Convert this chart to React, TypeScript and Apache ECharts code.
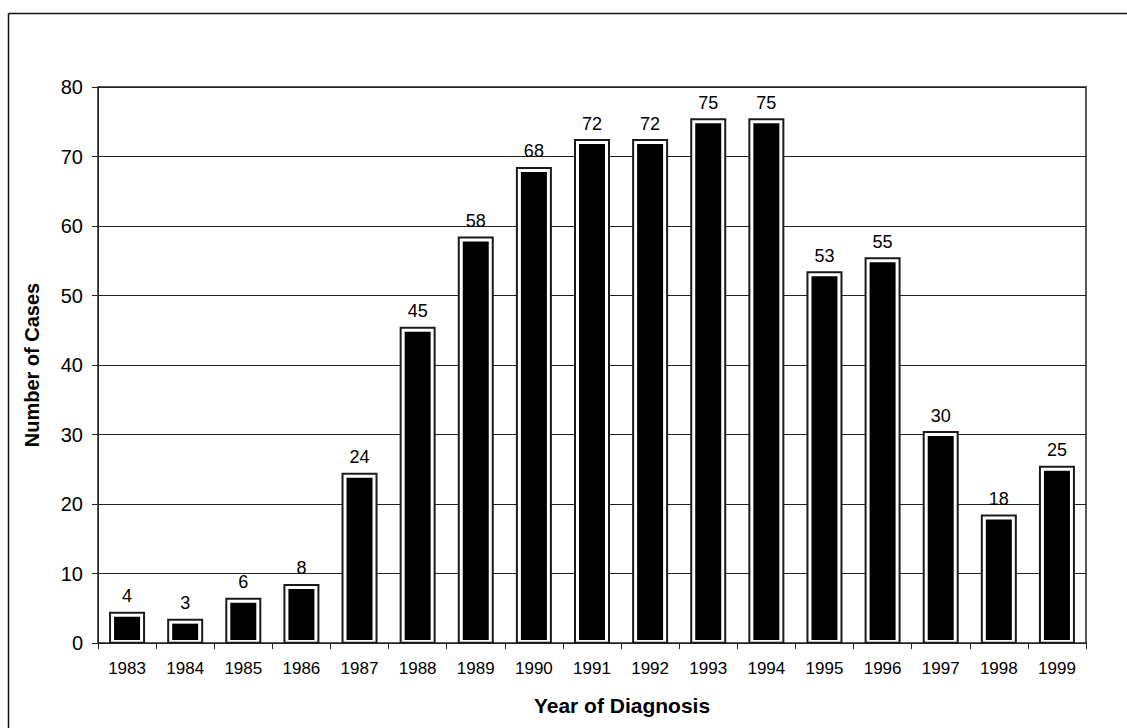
import React, { useEffect, useRef } from "react";
import * as echarts from "echarts";

const years = ["1983","1984","1985","1986","1987","1988","1989","1990","1991","1992","1993","1994","1995","1996","1997","1998","1999"];
const cases = [4, 3, 6, 8, 24, 45, 58, 68, 72, 72, 75, 75, 53, 55, 30, 18, 25];
const yTicks = { min: 0, max: 80, interval: 10 };

const FONT = '"Liberation Sans", Arial, sans-serif';
const BAR_W = 36;

// Each bar: dark outline, white ring, black body — drawn from the axis coordinates.
function renderBar(params: any, api: any) {
  const base = api.coord([api.value(0), 0]);
  const top = api.coord([api.value(0), api.value(1)]);
  const cx = base[0];
  const yTop = top[1];
  const yBot = base[1];
  const rect = (inset: number, topInset: number, fill: string) => ({
    type: "rect",
    shape: {
      x: cx - BAR_W / 2 + inset,
      y: yTop + topInset,
      width: BAR_W - inset * 2,
      height: Math.max(0, yBot - yTop - topInset - inset * 0.6),
    },
    style: { fill },
  });
  return {
    type: "group",
    children: [rect(0, -3.5, "#1a1a1a"), rect(2, -1.5, "#ffffff"), rect(5, 1.5, "#000000")],
  };
}

export default function App() {
  const ref = useRef<HTMLDivElement>(null);
  useEffect(() => {
    if (!ref.current) return;
    const chart = echarts.init(ref.current, null, { renderer: "svg" });
    chart.setOption({
      animation: false,
      backgroundColor: "#fff",
      textStyle: { fontFamily: FONT },
      graphic: [
        { type: "line", shape: { x1: 8.5, y1: 13.5, x2: 1127, y2: 13.5 }, style: { stroke: "#111", lineWidth: 1.5 } },
        { type: "line", shape: { x1: 8.5, y1: 13.5, x2: 8.5, y2: 728 }, style: { stroke: "#111", lineWidth: 1.5 } },
      ],
      grid: { left: 98, top: 87, right: 41, bottom: 85, show: true, borderColor: "#222", borderWidth: 1.5 },
      xAxis: {
        type: "category",
        data: years,
        name: "Year of Diagnosis",
        nameLocation: "middle",
        nameGap: 52,
        nameTextStyle: {
          fontSize: 21, fontWeight: "bold", color: "#000", fontFamily: FONT,
          verticalAlign: "top", padding: [0, 0, 0, 60],
        },
        axisLine: { show: true, lineStyle: { color: "#222", width: 1 } },
        axisTick: { show: true, length: 6, lineStyle: { color: "#222" } },
        axisLabel: { fontSize: 17, color: "#000", margin: 17, fontFamily: FONT },
      },
      yAxis: {
        type: "value",
        min: yTicks.min,
        max: yTicks.max,
        interval: yTicks.interval,
        name: "Number of Cases",
        nameLocation: "middle",
        nameGap: 56,
        nameTextStyle: { fontSize: 20, fontWeight: "bold", color: "#000", fontFamily: FONT },
        axisLine: { show: true, lineStyle: { color: "#222", width: 1 } },
        axisTick: { show: true, length: 6, lineStyle: { color: "#222" } },
        axisLabel: { fontSize: 20, color: "#000", margin: 15, fontFamily: FONT },
        splitLine: { show: true, lineStyle: { color: "#222", width: 1 } },
      },
      series: [
        {
          type: "bar",
          data: cases,
          barWidth: BAR_W,
          itemStyle: { color: "rgba(0,0,0,0)" },
          label: { show: true, position: "top", distance: 10, fontSize: 18, color: "#000", fontFamily: FONT },
          z: 1,
        },
        {
          type: "custom",
          data: cases.map((v, i) => [i, v]),
          encode: { x: 0, y: 1 },
          renderItem: renderBar,
          z: 3,
        },
      ],
    });
    return () => chart.dispose();
  }, []);
  return <div ref={ref} style={{ width: 1127, height: 728, position: "absolute", left: 0, top: 0 }} />;
}
